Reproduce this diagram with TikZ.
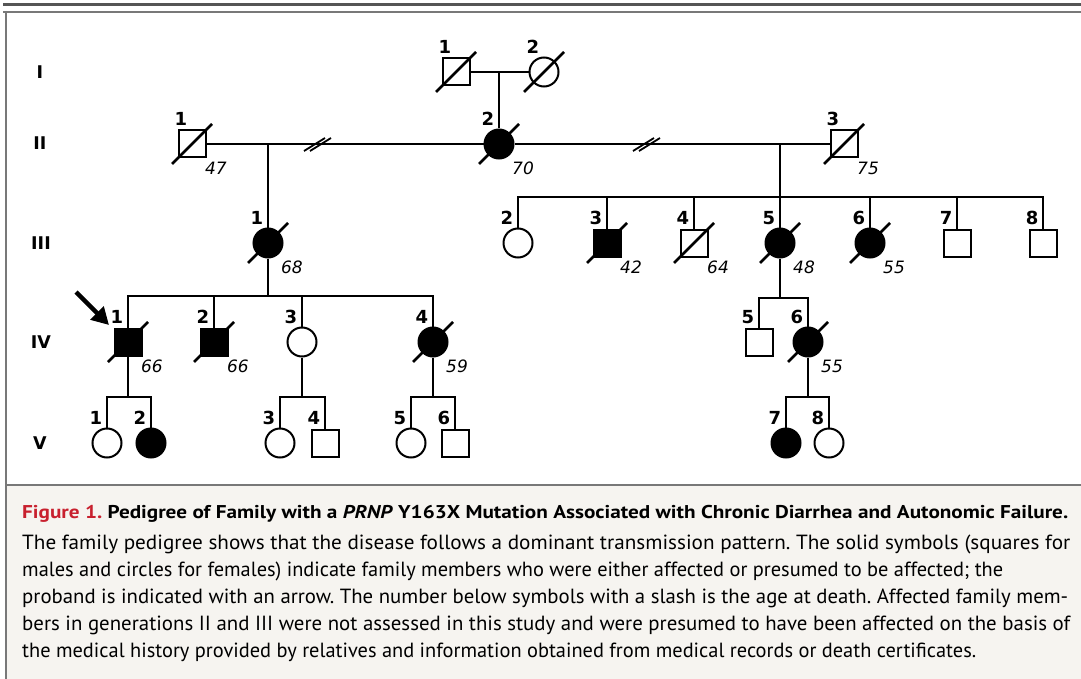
\documentclass[tikz,border=0pt]{standalone}
\usepackage{fontspec}
\setmainfont{DejaVu Sans}
\newfontfamily\capff{PT Sans}
\usetikzlibrary{arrows.meta}
\definecolor{nejmred}{RGB}{200,32,46}
\definecolor{capbg}{RGB}{246,244,240}
\definecolor{framedark}{RGB}{85,85,85}
\definecolor{framegray}{RGB}{120,120,120}
\newcommand\fitl[2]{\resizebox{#1pt}{\height}{#2}}
\newcommand\pers[6]{%
  \node[#4] (#1) at (#2,#3) {};
  \node[num] (#1n) at (#2-11,#3-25) {#5};
  \if\relax\detokenize{#6}\relax\else
    \node[age] (#1a) at (#2+24,#3+24) {#6};
  \fi}
\newcommand\slashit[1]{\draw[slashl] ([shift={(-20,20)}]#1.center) -- ([shift={(20,-20)}]#1.center);}
\frenchspacing
\begin{document}
\begin{tikzpicture}[x=1pt,y=-1pt,
  sq/.style={rectangle,draw,line width=2,minimum size=27,inner sep=0,fill=white},
  ci/.style={circle,draw,line width=2,minimum size=29,inner sep=0,fill=white},
  sqa/.style={sq,fill=black},
  cia/.style={ci,fill=black},
  ln/.style={line width=2.7},
  slashl/.style={line width=2.7},
  brk/.style={line width=1.8},
  num/.style={font=\fontsize{18}{20}\selectfont\bfseries,inner sep=0},
  age/.style={font=\fontsize{17}{19}\selectfont\itshape,inner sep=0},
  gen/.style={font=\fontsize{17.5}{19}\selectfont\bfseries,inner sep=0},
  capl/.style={anchor=base west,inner sep=0,font=\capff\fontsize{20.5}{27}\selectfont}]
\useasboundingbox (0,0) rectangle (1081,679);
% frame
\fill[capbg] (6,485) rectangle (1081,679);
\draw[framedark,line width=3] (3,4.5) -- (1081,4.5);
\draw[framegray,line width=2] (3,12) -- (1081,12);
\draw[framegray,line width=2] (5.5,11) -- (5.5,679);
\draw[framegray,line width=1.5] (5.5,485) -- (1081,485);
% generation labels
\node[gen] (gI) at (40,72) {I};
\node[gen] (gII) at (40,143) {II};
\node[gen] (gIII) at (41,243) {III};
\node[gen] (gIV) at (41,342) {IV};
\node[gen] (gV) at (40,443) {V};
% generation I
\pers{I1}{456}{72}{sq}{1}{}
\pers{I2}{544}{72}{ci}{2}{}
\coordinate (m1) at (499,72);
% generation II
\pers{II1}{192}{144}{sq}{1}{47}
\pers{II2}{499}{144}{cia}{2}{70}
\pers{II3}{844}{144}{sq}{3}{75}
\coordinate (m2) at (268,144);
\coordinate (m3) at (780,144);
% generation III
\pers{III1}{268}{243}{cia}{1}{68}
\pers{III2}{518}{243}{ci}{2}{}
\pers{III3}{607}{243}{sqa}{3}{42}
\pers{III4}{694}{243}{sq}{4}{64}
\pers{III5}{780}{243}{cia}{5}{48}
\pers{III6}{870}{243}{cia}{6}{55}
\pers{III7}{957}{243}{sq}{7}{}
\pers{III8}{1043}{243}{sq}{8}{}
\coordinate (s3) at (780,197);
% generation IV
\pers{IV1}{128}{342}{sqa}{1}{66}
\pers{IV2}{214}{342}{sqa}{2}{66}
\pers{IV3}{302}{342}{ci}{3}{}
\pers{IV4}{433}{342}{cia}{4}{59}
\pers{IV5}{759}{342}{sq}{5}{}
\pers{IV6}{808}{342}{cia}{6}{55}
\coordinate (s4) at (268,296);
\coordinate (s45) at (780,298);
% generation V
\pers{V1}{107}{443}{ci}{1}{}
\pers{V2}{151}{443}{cia}{2}{}
\pers{V3}{280}{443}{ci}{3}{}
\pers{V4}{325}{443}{sq}{4}{}
\pers{V5}{411}{443}{ci}{5}{}
\pers{V6}{455}{443}{sq}{6}{}
\pers{V7}{786}{443}{cia}{7}{}
\pers{V8}{829}{443}{ci}{8}{}
\coordinate (v1) at (128,397);
\coordinate (v3) at (302,397);
\coordinate (v4) at (433,397);
\coordinate (v6) at (808,397);
% connectors
\draw[ln] (I1) -- (I2);
\draw[ln] (m1) -- (II2);
\draw[ln] (II1) -- (II2);
\draw[ln] (II2) -- (II3);
\draw[ln] (m2) -- (III1);
\draw[ln] (m3) -- (III5);
\foreach \c in {III2,III3,III4,III6,III7,III8} \draw[ln] (s3) -| (\c);
\draw[ln] (III1) -- (s4);
\foreach \c in {IV1,IV2,IV3,IV4} \draw[ln] (s4) -| (\c);
\draw[ln] (III5) -- (s45);
\foreach \c in {IV5,IV6} \draw[ln] (s45) -| (\c);
\draw[ln] (IV1) -- (v1);
\foreach \c in {V1,V2} \draw[ln] (v1) -| (\c);
\draw[ln] (IV3) -- (v3);
\foreach \c in {V3,V4} \draw[ln] (v3) -| (\c);
\draw[ln] (IV4) -- (v4);
\foreach \c in {V5,V6} \draw[ln] (v4) -| (\c);
\draw[ln] (IV6) -- (v6);
\foreach \c in {V7,V8} \draw[ln] (v6) -| (\c);
% break marks
\foreach \bx in {318,647} {
  \draw[brk] (\bx-14,151) -- (\bx+7,138);
  \draw[brk] (\bx-8,151) -- (\bx+13,138);
}
% slashes
\foreach \p in {I1,I2,II1,II2,II3,III1,III3,III4,III5,III6,IV1,IV2,IV4,IV6} {\slashit{\p}}
% proband arrow
\coordinate (arT) at (76,292);
\coordinate (arH) at (109,325);
\draw[line width=4.5,-{Triangle[length=17,width=18]}] (arT) -- (arH);
% caption
\node[anchor=base west,inner sep=0,font=\capff\fontsize{18.5}{20}\selectfont\bfseries] (title) at (22,518) {\fitl{1046}{{\color{nejmred}Figure 1.} Pedigree of Family with a \textit{PRNP} Y163X Mutation Associated with Chronic Diarrhea and Autonomic Failure.}};
\node[capl] (c1) at (22,549) {\fitl{1048}{The family pedigree shows that the disease follows a dominant transmission pattern. The solid symbols (squares for}};
\node[capl] (c2) at (22,576) {\fitl{981}{males and circles for females) indicate family members who were either affected or presumed to be affected; the}};
\node[capl] (c3) at (22,603) {\fitl{1046}{proband is indicated with an arrow. The number below symbols with a slash is the age at death. Affected family mem-}};
\node[capl] (c4) at (22,630) {\fitl{1048}{bers in generations II and III were not assessed in this study and were presumed to have been affected on the basis of}};
\node[capl] (c5) at (22,657) {\fitl{954}{the medical history provided by relatives and information obtained from medical records or death certificates.}};
\end{tikzpicture}
\end{document}
